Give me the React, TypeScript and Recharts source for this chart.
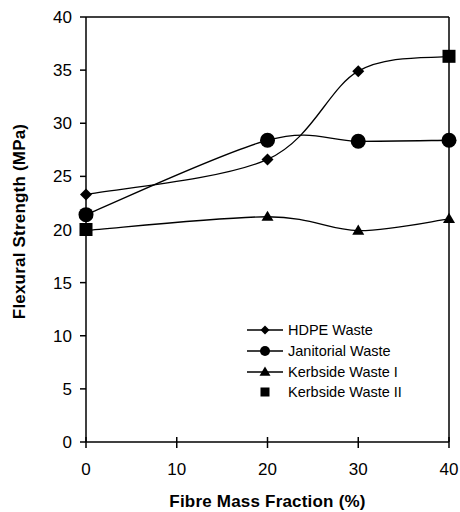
import React from "react";
import { ComposedChart, Line, XAxis, YAxis, ReferenceLine, Legend, Label } from "recharts";

const fibreFraction = [0, 20, 30, 40];
const hdpeWaste = [23.3, 26.6, 34.9, 36.3];
const janitorialWaste = [21.4, 28.4, 28.3, 28.4];
const kerbsideWasteI = [19.9, 21.2, 19.9, 21.0];
const kerbsideWasteII: (number | null)[] = [20.0, null, null, 36.3];
const xTicks = [0, 10, 20, 30, 40];
const yTicks = [0, 5, 10, 15, 20, 25, 30, 35, 40];
const seriesNames = ["HDPE Waste", "Janitorial Waste", "Kerbside Waste I", "Kerbside Waste II"];

const data = fibreFraction.map((x, i) => ({
  x,
  hdpe: hdpeWaste[i],
  jan: janitorialWaste[i],
  k1: kerbsideWasteI[i],
  k2: kerbsideWasteII[i],
}));

const FONT = "'Liberation Sans', Arial, sans-serif";

// Excel-like smooth curve (Catmull-Rom / cardinal with tension 0)
const smoothCurve = (context: any) => {
  let pts: number[][] = [];
  return {
    areaStart() {},
    areaEnd() {},
    lineStart() {
      pts = [];
    },
    point(x: number, y: number) {
      pts.push([+x, +y]);
    },
    lineEnd() {
      const n = pts.length;
      if (!n) return;
      context.moveTo(pts[0][0], pts[0][1]);
      for (let i = 0; i < n - 1; i++) {
        const p0 = pts[i - 1] || pts[i];
        const p1 = pts[i];
        const p2 = pts[i + 1];
        const p3 = pts[i + 2] || pts[i + 1];
        context.bezierCurveTo(
          p1[0] + (p2[0] - p0[0]) / 6,
          p1[1] + (p2[1] - p0[1]) / 6,
          p2[0] - (p3[0] - p1[0]) / 6,
          p2[1] - (p3[1] - p1[1]) / 6,
          p2[0],
          p2[1]
        );
      }
    },
  };
};

const Marker = ({ shape, cx, cy, s }: { shape: string; cx: number; cy: number; s: number }) => {
  if (shape === "diamond")
    return <path d={`M${cx},${cy - s}L${cx + s},${cy}L${cx},${cy + s}L${cx - s},${cy}Z`} fill="#000" />;
  if (shape === "circle") return <circle cx={cx} cy={cy} r={s} fill="#000" />;
  if (shape === "triangle") {
    const h = s * 1.7;
    return (
      <path
        d={`M${cx},${cy - h * 0.6}L${cx + s},${cy + h * 0.4}L${cx - s},${cy + h * 0.4}Z`}
        fill="#000"
      />
    );
  }
  return <rect x={cx - s} y={cy - s} width={2 * s} height={2 * s} fill="#000" />;
};

const makeDot = (shape: string, s: number) => (props: any) => {
  const { cx, cy, value, index } = props;
  if (value == null || cx == null || cy == null || isNaN(cy)) return <g key={`${shape}-${index}`} />;
  return <Marker key={`${shape}-${index}`} shape={shape} cx={cx} cy={cy} s={s} />;
};

const XTick = (props: any) => {
  const { x, y, payload } = props;
  const axisY = y - 21;
  return (
    <g>
      <line x1={x} x2={x} y1={axisY - 5} y2={axisY} stroke="#000" strokeWidth={1.5} />
      <text x={x} y={y} dy="0.71em" textAnchor="middle" fill="#000" fontSize={17} fontFamily={FONT}>
        {payload.value}
      </text>
    </g>
  );
};

const legendShapes = ["diamond", "circle", "triangle", "square"];
const legendSizes = [4.5, 5, 5.5, 4.5];

const LegendContent = () => (
  <div style={{ fontFamily: FONT, fontSize: 14.5, color: "#000" }}>
    {seriesNames.map((name, i) => (
      <div key={name} style={{ display: "flex", alignItems: "center", height: 20.7 }}>
        <svg width={41} height={20} style={{ display: "block" }}>
          {i < 3 && <line x1={0} x2={36} y1={10} y2={10} stroke="#000" strokeWidth={1.3} />}
          <Marker shape={legendShapes[i]} cx={18} cy={10} s={legendSizes[i]} />
        </svg>
        <span style={{ whiteSpace: "nowrap" }}>{name}</span>
      </div>
    ))}
  </div>
);

export default function App() {
  return (
    <>
      <style>{`body{margin:0}`}</style>
      <ComposedChart
        width={460}
        height={512}
        data={data}
        margin={{ top: 17, right: 11, bottom: 0, left: 0 }}
      >
        <XAxis
          type="number"
          dataKey="x"
          domain={[0, 40]}
          ticks={xTicks}
          height={70}
          tickSize={6}
          tickMargin={15}
          tick={<XTick />}
          axisLine={{ stroke: "#000", strokeWidth: 1.5 }}
          tickLine={{ stroke: "#000", strokeWidth: 1.5 }}
        >
          <Label
            content={() => (
              <text
                x={267.5}
                y={501}
                textAnchor="middle"
                dominantBaseline="central"
                fontFamily={FONT}
                fontWeight="bold"
                fontSize={17}
                letterSpacing={0.2}
                fill="#000"
              >
                Fibre Mass Fraction (%)
              </text>
            )}
          />
        </XAxis>
        <YAxis
          type="number"
          domain={[0, 40]}
          ticks={yTicks}
          width={86}
          tickSize={6}
          tickMargin={8}
          tick={{ fill: "#000", fontSize: 17, fontFamily: FONT }}
          axisLine={{ stroke: "#000", strokeWidth: 1.5 }}
          tickLine={{ stroke: "#000", strokeWidth: 1.5 }}
        >
          <Label
            content={() => (
              <text
                x={19}
                y={221.5}
                transform="rotate(-90, 19, 221.5)"
                textAnchor="middle"
                dominantBaseline="central"
                fontFamily={FONT}
                fontWeight="bold"
                fontSize={17}
                letterSpacing={0.2}
                fill="#000"
              >
                Flexural Strength (MPa)
              </text>
            )}
          />
        </YAxis>
        <ReferenceLine y={40} stroke="#000" strokeWidth={1.5} />
        <ReferenceLine x={40} stroke="#000" strokeWidth={1.5} />
        <Legend
          layout="vertical"
          align="center"
          verticalAlign="middle"
          content={<LegendContent />}
          wrapperStyle={{ left: 247, top: 320, width: "auto", height: "auto" }}
        />
        <Line
          dataKey="k1"
          name={seriesNames[2]}
          type={smoothCurve as any}
          stroke="#000"
          strokeWidth={1.3}
          dot={makeDot("triangle", 6)}
          activeDot={false}
          isAnimationActive={false}
        />
        <Line
          dataKey="jan"
          name={seriesNames[1]}
          type={smoothCurve as any}
          stroke="#000"
          strokeWidth={1.3}
          dot={makeDot("circle", 7.5)}
          activeDot={false}
          isAnimationActive={false}
        />
        <Line
          dataKey="hdpe"
          name={seriesNames[0]}
          type={smoothCurve as any}
          stroke="#000"
          strokeWidth={1.3}
          dot={makeDot("diamond", 6)}
          activeDot={false}
          isAnimationActive={false}
        />
        <Line
          dataKey="k2"
          name={seriesNames[3]}
          stroke="none"
          dot={makeDot("square", 6.5)}
          activeDot={false}
          isAnimationActive={false}
        />
      </ComposedChart>
    </>
  );
}
